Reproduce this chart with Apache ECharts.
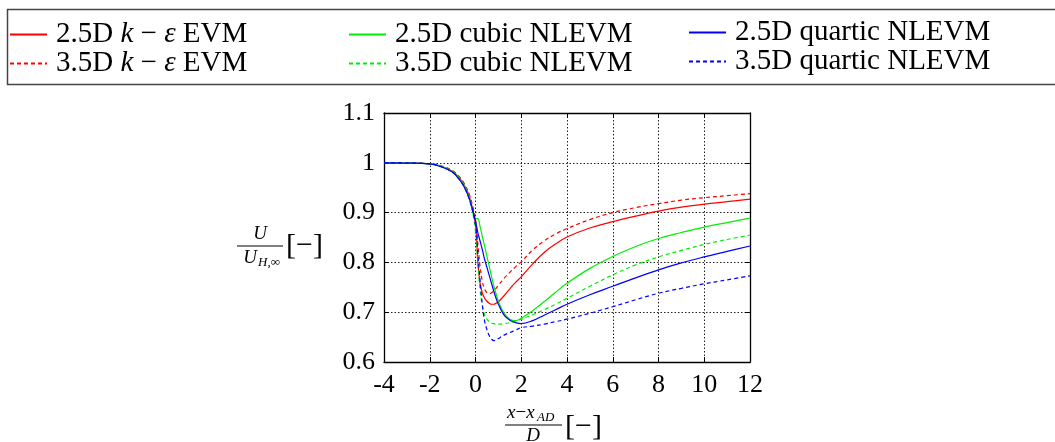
<!DOCTYPE html>
<html>
<head>
<meta charset="utf-8">
<script src="https://cdn.jsdelivr.net/npm/echarts@6/dist/echarts.min.js"></script>
<style>
html, body { margin: 0; padding: 0; background: #fff; }
#main { width: 1055px; height: 442px; }
</style>
</head>
<body>
<div id="main"></div>
<script>
// tick labels
var xTicks = [-4, -2, 0, 2, 4, 6, 8, 10, 12];
var yTicks = [0.6, 0.7, 0.8, 0.9, 1, 1.1];

// sample positions (x - x_AD) / D
var xs = [-4, -3, -2, -1.5, -1, -0.75, -0.5, -0.25, 0, 0.1, 0.2, 0.3, 0.4, 0.5, 0.6, 0.7, 0.8, 0.9, 1,
  1.25, 1.5, 1.75, 2, 2.5, 3, 3.5, 4, 5, 6, 7, 8, 9, 10, 11, 12];

// U / U_H,inf
var ke25 = [1.0, 0.9995, 0.998, 0.993, 0.983, 0.972, 0.956, 0.93, 0.875, 0.80, 0.758, 0.738, 0.728, 0.722, 0.718, 0.716, 0.716, 0.718, 0.721,
  0.733, 0.747, 0.76, 0.771, 0.797, 0.82, 0.837, 0.851, 0.869, 0.882, 0.893, 0.903, 0.911, 0.917, 0.922, 0.927];
var ke35 = [1.0, 0.9995, 0.998, 0.994, 0.984, 0.974, 0.959, 0.934, 0.885, 0.838, 0.792, 0.762, 0.746, 0.739, 0.737, 0.739, 0.743, 0.748, 0.754,
  0.768, 0.78, 0.791, 0.801, 0.825, 0.843, 0.857, 0.868, 0.886, 0.9, 0.91, 0.918, 0.925, 0.93, 0.934, 0.938];
var cub25 = [1.0, 0.9995, 0.998, 0.993, 0.982, 0.971, 0.955, 0.927, 0.888, 0.888, 0.872, 0.852, 0.832, 0.812, 0.792, 0.772, 0.753, 0.737, 0.722,
  0.698, 0.686, 0.683, 0.688, 0.703, 0.721, 0.74, 0.758, 0.788, 0.812, 0.832, 0.848, 0.86, 0.871, 0.88, 0.889];
var cub35 = [1.0, 0.9995, 0.998, 0.993, 0.982, 0.971, 0.955, 0.928, 0.862, 0.80, 0.745, 0.712, 0.695, 0.686, 0.681, 0.678, 0.677, 0.676, 0.676,
  0.677, 0.679, 0.682, 0.686, 0.695, 0.705, 0.716, 0.728, 0.752, 0.775, 0.795, 0.811, 0.824, 0.836, 0.846, 0.855];
var qua25 = [1.0, 0.9995, 0.998, 0.992, 0.981, 0.969, 0.952, 0.925, 0.883, 0.86, 0.843, 0.825, 0.806, 0.79, 0.774, 0.758, 0.742, 0.728, 0.716,
  0.694, 0.684, 0.679, 0.677, 0.683, 0.694, 0.705, 0.716, 0.735, 0.752, 0.769, 0.785, 0.799, 0.811, 0.822, 0.833];
var qua35 = [1.0, 0.9995, 0.998, 0.992, 0.981, 0.969, 0.952, 0.924, 0.875, 0.82, 0.763, 0.715, 0.682, 0.665, 0.653, 0.646, 0.643, 0.644, 0.647,
  0.654, 0.659, 0.664, 0.669, 0.672, 0.676, 0.681, 0.686, 0.698, 0.711, 0.725, 0.738, 0.748, 0.757, 0.765, 0.773];

var names = ['2.5D k − ε EVM', '3.5D k − ε EVM', '2.5D cubic NLEVM', '3.5D cubic NLEVM', '2.5D quartic NLEVM', '3.5D quartic NLEVM'];
var values = [ke25, ke35, cub25, cub35, qua25, qua35];
var colors = ['#ff0000', '#ff0000', '#00ee00', '#00ee00', '#0000ff', '#0000ff'];

var serif = 'Liberation Serif';

function pairs(ys) {
  var out = [];
  for (var i = 0; i < xs.length; i++) out.push([xs[i], ys[i]]);
  return out;
}

var chart = echarts.init(document.getElementById('main'));

var series = [];
for (var i = 0; i < names.length; i++) {
  series.push({
    name: names[i],
    type: 'line',
    data: pairs(values[i]),
    symbol: 'none',
    smooth: 0.4,
    color: colors[i],
    lineStyle: { color: colors[i], width: 1.2, type: i % 2 ? [4, 3] : 'solid' }
  });
}

function legendAt(left, top, items) {
  return {
    orient: 'vertical',
    left: left,
    top: top,
    data: items,
    itemWidth: 37,
    itemHeight: 14,
    itemGap: 0,
    padding: 0,
    selectedMode: false,
    itemStyle: { opacity: 0 },
    formatter: function (n) { return n.replace('k − ε', '{i|k} − {i|ε}'); },
    textStyle: {
      fontFamily: serif, fontSize: 29, color: '#000', lineHeight: 25, padding: [0, 0, 0, 4],
      rich: { i: { fontFamily: serif, fontSize: 29, fontStyle: 'italic', lineHeight: 25 } }
    }
  };
}

var axisFont = { fontFamily: serif, fontSize: 26, color: '#000' };
var frame = { show: true, onZero: false, lineStyle: { color: '#000', width: 1.3 } };
var ticks = { show: true, inside: true, length: 5, lineStyle: { color: '#000', width: 1 } };
var dots = { show: true, lineStyle: { color: '#222', width: 1, type: [1.5, 2] } };

var option = {
  animation: false,
  backgroundColor: '#fff',
  grid: { left: 384, top: 113, width: 366, height: 249 },
  legend: [
    legendAt(9, 20, [names[0], names[1]]),
    legendAt(348, 20, [names[2], names[3]]),
    legendAt(688, 18, [names[4], names[5]])
  ],
  xAxis: [{
    type: 'value', min: xTicks[0], max: xTicks[xTicks.length - 1], interval: 2,
    axisLine: frame, axisTick: ticks, splitLine: dots,
    axisLabel: Object.assign({ margin: 10 }, axisFont)
  }, {
    type: 'value', position: 'top', min: xTicks[0], max: xTicks[xTicks.length - 1], interval: 2,
    axisLine: frame, axisTick: ticks, splitLine: { show: false }, axisLabel: { show: false }
  }],
  yAxis: [{
    type: 'value', min: yTicks[0], max: yTicks[yTicks.length - 1], interval: 0.1,
    axisLine: frame, axisTick: ticks, splitLine: dots,
    axisLabel: Object.assign({
      margin: 9,
      formatter: function (v) { return String(Math.round(v * 10) / 10); }
    }, axisFont)
  }, {
    type: 'value', position: 'right', min: yTicks[0], max: yTicks[yTicks.length - 1], interval: 0.1,
    axisLine: frame, axisTick: ticks, splitLine: { show: false }, axisLabel: { show: false }
  }],
  graphic: [
    { type: 'rect', shape: { x: 7.5, y: 9.5, width: 1060, height: 75 }, style: { fill: 'none', stroke: '#444', lineWidth: 1.5 }, silent: true },
    // y axis title  U / U_{H,inf} [-]
    { type: 'text', x: 260, y: 234, style: { text: 'U', font: 'italic 19px "Liberation Serif"', fill: '#000', align: 'center', verticalAlign: 'middle' } },
    { type: 'line', shape: { x1: 237, y1: 246, x2: 283, y2: 246 }, style: { stroke: '#000', lineWidth: 1.2 } },
    { type: 'text', x: 250, y: 258, style: { text: 'U', font: 'italic 19px "Liberation Serif"', fill: '#000', align: 'center', verticalAlign: 'middle' } },
    { type: 'text', x: 258, y: 263, style: { text: 'H,∞', font: 'italic 13px "Liberation Serif"', fill: '#000', align: 'left', verticalAlign: 'middle' } },
    { type: 'text', x: 286, y: 246, style: { text: '[−]', font: '30px "Liberation Serif"', fill: '#000', align: 'left', verticalAlign: 'middle' } },
    // x axis title  (x - x_AD) / D [-]
    { type: 'text', x: 507, y: 413, style: { text: '{i|x}−{i|x}', fill: '#000', align: 'left', verticalAlign: 'middle',
      rich: { i: { fontFamily: serif, fontStyle: 'italic', fontSize: 19 } }, fontFamily: serif, fontSize: 19 } },
    { type: 'text', x: 537, y: 418, style: { text: 'AD', font: 'italic 13px "Liberation Serif"', fill: '#000', align: 'left', verticalAlign: 'middle' } },
    { type: 'line', shape: { x1: 505, y1: 425, x2: 562, y2: 425 }, style: { stroke: '#000', lineWidth: 1.2 } },
    { type: 'text', x: 533, y: 436, style: { text: 'D', font: 'italic 19px "Liberation Serif"', fill: '#000', align: 'center', verticalAlign: 'middle' } },
    { type: 'text', x: 565, y: 427, style: { text: '[−]', font: '30px "Liberation Serif"', fill: '#000', align: 'left', verticalAlign: 'middle' } }
  ],
  series: series
};

chart.setOption(option);
</script>
</body>
</html>
